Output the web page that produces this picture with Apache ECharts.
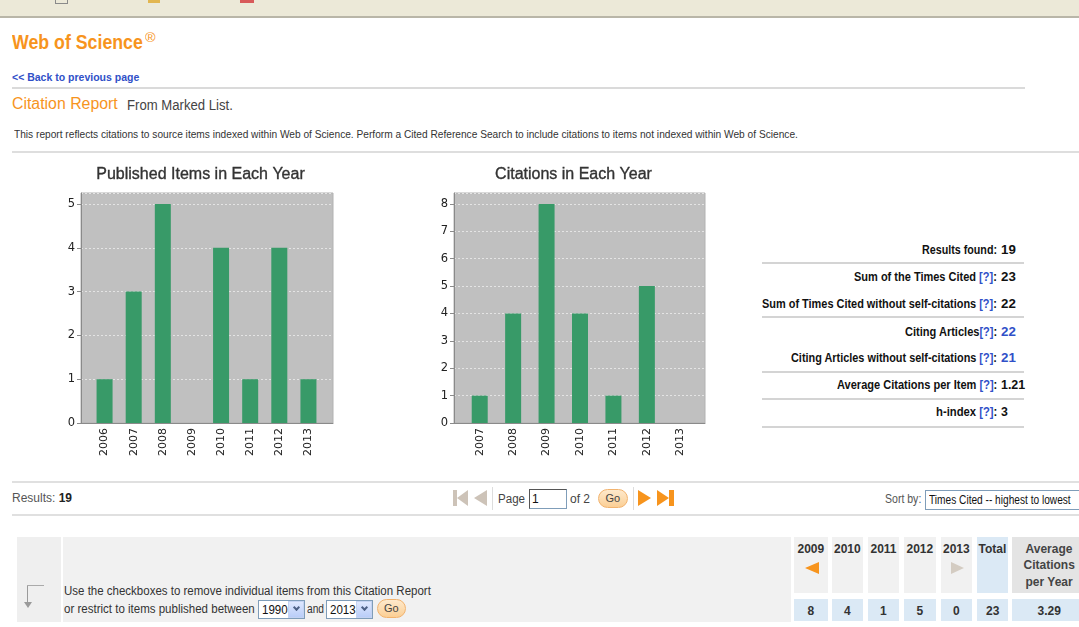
<!DOCTYPE html>
<html><head><meta charset="utf-8">
<script src="https://cdn.jsdelivr.net/npm/echarts@6/dist/echarts.min.js"></script>
<style>
html,body{margin:0;padding:0;background:#fff;width:1079px;height:627px;overflow:hidden;font-family:'Liberation Sans',Arial,sans-serif;}
#page{position:absolute;left:0;top:0;width:1079px;height:627px;}
.t{position:absolute;left:0;white-space:nowrap;transform-origin:0 0;line-height:1;}
.b{position:absolute;box-sizing:border-box;}
#chart{position:absolute;left:0;top:0;width:1079px;height:627px;z-index:5;pointer-events:none;}
</style></head><body>
<div id="page"></div>
<div id="chart"></div>
<script>
// ---------------- data ----------------
const pubYears = ['2006','2007','2008','2009','2010','2011','2012','2013'];
const pubCounts = [1, 3, 5, 0, 4, 1, 4, 1];
const citYears = ['2007','2008','2009','2010','2011','2012','2013'];
const citCounts = [1, 4, 8, 4, 1, 5, 0];
const pubTicks = ['0','1','2','3','4','5'];
const citTicks = ['0','1','2','3','4','5','6','7','8'];
const statLabels = ['Results found:', 'Sum of the Times Cited', 'Sum of Times Cited without self-citations', 'Citing Articles', 'Citing Articles without self-citations', 'Average Citations per Item', 'h-index'];
const statValues = ['19', '23', '22', '22', '21', '1.21', '3'];
const tableYears = ['2009','2010','2011','2012','2013'];
const citationTotal = '23';
const avgPerYear = '3.29';
const resultsCount = '19';

// ---------------- page helpers ----------------
const page = document.getElementById('page');
const texts = [];
function box(x, y, w, h, st) {
  const d = document.createElement('div'); d.className = 'b';
  Object.assign(d.style, {left: x + 'px', top: y + 'px', width: w + 'px', height: h + 'px'}, st || {});
  page.appendChild(d); return d;
}
function txt(html, o) {
  const s = document.createElement('div'); s.className = 't'; s.innerHTML = html;
  s.style.fontSize = o.fs + 'px'; s.style.height = o.fs + 'px';
  s.style.top = (o.base - 0.8465 * o.fs) + 'px';
  if (o.bold) s.style.fontWeight = 'bold';
  s.style.color = o.color || '#333';
  page.appendChild(s); texts.push([s, o]); return s;
}
function layoutTexts() {
  for (const [s, o] of texts) {
    const nat = s.scrollWidth || s.offsetWidth;
    const w = o.w || nat;
    s.style.transform = 'scaleX(' + (w / nat) + ')';
    const left = o.x != null ? o.x : (o.r != null ? o.r - w : o.c - w / 2);
    s.style.left = left + 'px';
  }
}
function tri(x, y, w, h, dir, color) {
  const d = box(x, y, 0, 0, {width: '0px', height: '0px'});
  if (dir === 'left') { d.style.borderTop = (h/2) + 'px solid transparent'; d.style.borderBottom = (h/2) + 'px solid transparent'; d.style.borderRight = w + 'px solid ' + color; }
  else if (dir === 'right') { d.style.borderTop = (h/2) + 'px solid transparent'; d.style.borderBottom = (h/2) + 'px solid transparent'; d.style.borderLeft = w + 'px solid ' + color; }
  else { d.style.borderLeft = (w/2) + 'px solid transparent'; d.style.borderRight = (w/2) + 'px solid transparent'; d.style.borderTop = h + 'px solid ' + color; }
  return d;
}
function goBtn(x, y, w, h) {
  box(x, y, w, h, {background: 'linear-gradient(#fee9cc,#fbcf95)', border: '1px solid #f2b36e', borderRadius: (h/2) + 'px'});
  txt('Go', {c: x + w/2, base: y + h/2 + 4, fs: 11, color: '#444'});
}
function select(x, y, w, h, label) {
  box(x, y, w, h, {background: '#fff', border: '1px solid #7f9db9'});
  txt(label, {x: x + 4, base: y + h/2 + 4.5, fs: 12, color: '#111', w: 26});
  box(x + w - 17, y + 1, 16, h - 2, {background: 'linear-gradient(#dfe8fe,#b9cdf8)', border: '1px solid #c4d3f2'});
  box(x + w - 11.5, y + h/2 - 4.5, 5, 5, {borderRight: '2px solid #4d6185', borderBottom: '2px solid #4d6185', transform: 'rotate(45deg)'});
}

const BLUE = '#3050c8', ORANGE = '#f7941d';

// top strip
box(0, 0, 1079, 18, {background: '#ece9d8', borderBottom: '2px solid #b9b6a8'});
box(55, 0, 13, 4, {border: '1px solid #8a8a8a', borderTop: 'none'});
box(148, 0, 12, 3, {background: '#e2b650'});
box(240, 0, 14, 3, {background: '#d85a5a'});

// header
txt('Web of Science', {x: 12, base: 48.5, fs: 21, bold: true, color: ORANGE, w: 131});
txt('&reg;', {x: 145, base: 42, fs: 13, color: ORANGE, w: 11});
txt('&lt;&lt; Back to previous page', {x: 12, base: 81, fs: 11, bold: true, color: BLUE, w: 127});
box(12, 87, 1013, 2, {background: '#dadada'});
txt('Citation Report', {x: 12, base: 109.5, fs: 16, color: ORANGE, w: 106});
txt('From Marked List.', {x: 127, base: 109.5, fs: 14, color: '#444', w: 106});
txt('This report reflects citations to source items indexed within Web of Science. Perform a Cited Reference Search to include citations to items not indexed within Web of Science.', {x: 14, base: 138, fs: 11, color: '#333', w: 784});
box(12, 151, 1067, 2, {background: '#dedede'});

// stats block
const statW = [75, 143, 235, 92, 206, 160, 61];
const statBase = [254, 281.5, 308, 336, 362, 389, 416.5];
const statHelp = [false, true, true, true, true, true, true];
const statSep = ['', ' ', ' ', '', ' ', ' ', ' '];
statLabels.forEach((l, i) => {
  const html = statHelp[i] ? l + statSep[i] + '<span style="color:' + BLUE + '">[?]</span>:' : l;
  txt(html, {r: 997, base: statBase[i], fs: 12, bold: true, color: '#111', w: statW[i]});
  txt(statValues[i], {x: 1001, base: statBase[i], fs: 12, bold: true, color: (i === 3 || i === 4) ? BLUE : '#111', w: statValues[i].length * 7.2 - (statValues[i].includes('.') ? 5 : 0)});
});
[263, 317, 372, 399, 427].forEach(y => box(762, y - 1, 262, 2, {background: '#d4d4d4'}));

// results / pagination row
box(12, 481, 1067, 2, {background: '#e0e0e0'});
box(12, 514, 1067, 2, {background: '#e0e0e0'});
txt('Results: <b style="color:#222">' + resultsCount + '</b>', {x: 12, base: 502.5, fs: 12, color: '#555', w: 60});
box(453, 490, 4, 16, {background: '#cdc3b8'});
tri(457, 490, 11, 16, 'left', '#cdc3b8');
tri(474, 490, 13, 16, 'left', '#cdc3b8');
box(492, 487, 1, 23, {background: '#dddddd'});
txt('Page', {x: 498, base: 503, fs: 12, color: '#444', w: 27});
box(529, 489, 38, 20, {background: '#fff', border: '1px solid #7f9db9', borderTopColor: '#555', borderLeftColor: '#555'});
txt('1', {x: 532, base: 503, fs: 12, color: '#111'});
txt('of 2', {x: 570, base: 503, fs: 12, color: '#444', w: 20});
goBtn(598, 489, 30, 19);
box(633, 487, 1, 23, {background: '#dddddd'});
tri(638, 490, 13, 16, 'right', ORANGE);
tri(657, 490, 12, 16, 'right', ORANGE);
box(669, 490, 5, 16, {background: ORANGE});
txt('Sort by:', {x: 885, base: 503, fs: 12, color: '#555', w: 36});
box(925, 490, 160, 20, {background: '#fff', border: '1px solid #7f9db9'});
txt('Times Cited -- highest to lowest', {x: 929, base: 504, fs: 12, color: '#111', w: 142});

// bottom panel
box(17, 537, 44, 85, {background: '#efefef'});
box(63, 537, 728, 85, {background: '#f1f1f1'});
box(27, 585, 1, 18, {background: '#9a9a9a'});
box(27, 585, 17, 1, {background: '#aaaaaa'});
tri(23.5, 602, 8, 6, 'down', '#9a9a9a');
txt('Use the checkboxes to remove individual items from this Citation Report', {x: 64, base: 595, fs: 12, color: '#333', w: 367});
txt('or restrict to items published between', {x: 64, base: 613, fs: 12, color: '#333', w: 191});
select(258, 600, 47, 19, '1990');
txt('and', {x: 307, base: 613, fs: 12, color: '#333', w: 17});
select(326, 600, 47, 19, '2013');
goBtn(377, 599, 29, 19);

// citations table
const colX = [[794, 828], [832, 863], [868, 899], [904, 936], [941, 972]];
tableYears.forEach((yr, i) => {
  const [a, b] = colX[i];
  box(a, 537, b - a, 56, {background: '#f1f1f1'});
  box(a, 599, b - a, 22, {background: '#dbe9f5'});
  txt(yr, {c: (a + b) / 2, base: 552.7, fs: 12, bold: true, color: '#333'});
  const v = citCounts[citYears.indexOf(yr)];
  txt(String(v), {c: (a + b) / 2, base: 615, fs: 12, bold: true, color: '#333'});
});
tri(805, 562, 14, 12, 'left', ORANGE);
tri(951, 562, 13, 12, 'right', '#d4ccc2');
box(977, 537, 31, 56, {background: '#dbe9f5'});
box(977, 599, 31, 22, {background: '#dbe9f5'});
txt('Total', {c: 992.5, base: 552.7, fs: 12, bold: true, color: '#333'});
txt(citationTotal, {c: 992.5, base: 615, fs: 12, bold: true, color: '#333'});
box(1012, 537, 67, 56, {background: '#e4e4e4'});
box(1012, 599, 67, 22, {background: '#dbe9f5'});
['Average', 'Citations', 'per Year'].forEach((l, i) => txt(l, {c: 1049, base: 552.7 + i * 16.7, fs: 12, bold: true, color: '#444'}));
txt(avgPerYear, {c: 1049, base: 615, fs: 12, bold: true, color: '#333'});

// ---------------- charts ----------------
const chart = echarts.init(document.getElementById('chart'), null, {renderer: 'canvas'});
const AXF = "'DejaVu Sans',sans-serif";
const BAR = '#389a68';
function bgGrid(left, width) { return {left: left, top: 193, width: width, height: 230, show: true, backgroundColor: '#c0c0c0', borderColor: '#b2b2b2', borderWidth: 1}; }
function valAxisY(grid, max, ticks) {
  return {type: 'value', gridIndex: grid, min: 0, max: max, interval: 1,
    axisLine: {show: true, lineStyle: {color: '#8a8a8a', width: 1}},
    axisTick: {show: true, length: 4, lineStyle: {color: '#8a8a8a'}},
    axisLabel: {show: true, margin: 6, fontSize: 11.5, color: '#222', fontFamily: AXF, showMaxLabel: false,
      formatter: v => ticks.includes(String(v)) ? String(v) : ''},
    splitLine: {show: true, lineStyle: {color: '#e4e4e4', type: [2, 2], width: 1}}};
}
function hiddenY(grid, max) { return {type: 'value', gridIndex: grid, min: 0, max: max, show: false, splitLine: {show: false}}; }
function baseX(grid) { return {type: 'value', gridIndex: grid, min: 0, max: 1, axisLine: {show: true, onZero: true, lineStyle: {color: '#8a8a8a'}}, axisTick: {show: false}, axisLabel: {show: false}, splitLine: {show: false}}; }
function catX(grid, data) {
  return {type: 'category', gridIndex: grid, data: data, axisLine: {show: false}, axisTick: {show: false},
    axisLabel: {rotate: 90, margin: 5, fontSize: 11, color: '#222', fontFamily: AXF, interval: 0}, splitLine: {show: false}};
}
const titleStyle = {fontSize: 16, fontFamily: "'Liberation Sans',Arial,sans-serif", fill: '#333', stroke: '#333', lineWidth: 0.35, align: 'center', verticalAlign: 'middle'};
chart.setOption({
  animation: false,
  grid: [bgGrid(81, 252), {left: 90, top: 193, width: 233, height: 230}, bgGrid(454, 251), {left: 463, top: 193, width: 234, height: 230}],
  xAxis: [baseX(0), catX(1, pubYears), baseX(2), catX(3, citYears)],
  yAxis: [valAxisY(0, 5.25, pubTicks), hiddenY(1, 5.25), valAxisY(2, 8.4, citTicks), hiddenY(3, 8.4)],
  series: [
    {type: 'bar', name: 'Published Items', xAxisIndex: 1, yAxisIndex: 1, data: pubCounts, barWidth: 16, itemStyle: {color: BAR}},
    {type: 'bar', name: 'Citations', xAxisIndex: 3, yAxisIndex: 3, data: citCounts, barWidth: 16, itemStyle: {color: BAR}}
  ],
  graphic: [
    {type: 'text', x: 200.5, y: 174.5, style: Object.assign({text: 'Published Items in Each Year'}, titleStyle)},
    {type: 'text', x: 573.5, y: 174.5, style: Object.assign({text: 'Citations in Each Year'}, titleStyle)}
  ]
});

layoutTexts();
if (document.fonts && document.fonts.ready) document.fonts.ready.then(layoutTexts);
</script>
</body></html>
